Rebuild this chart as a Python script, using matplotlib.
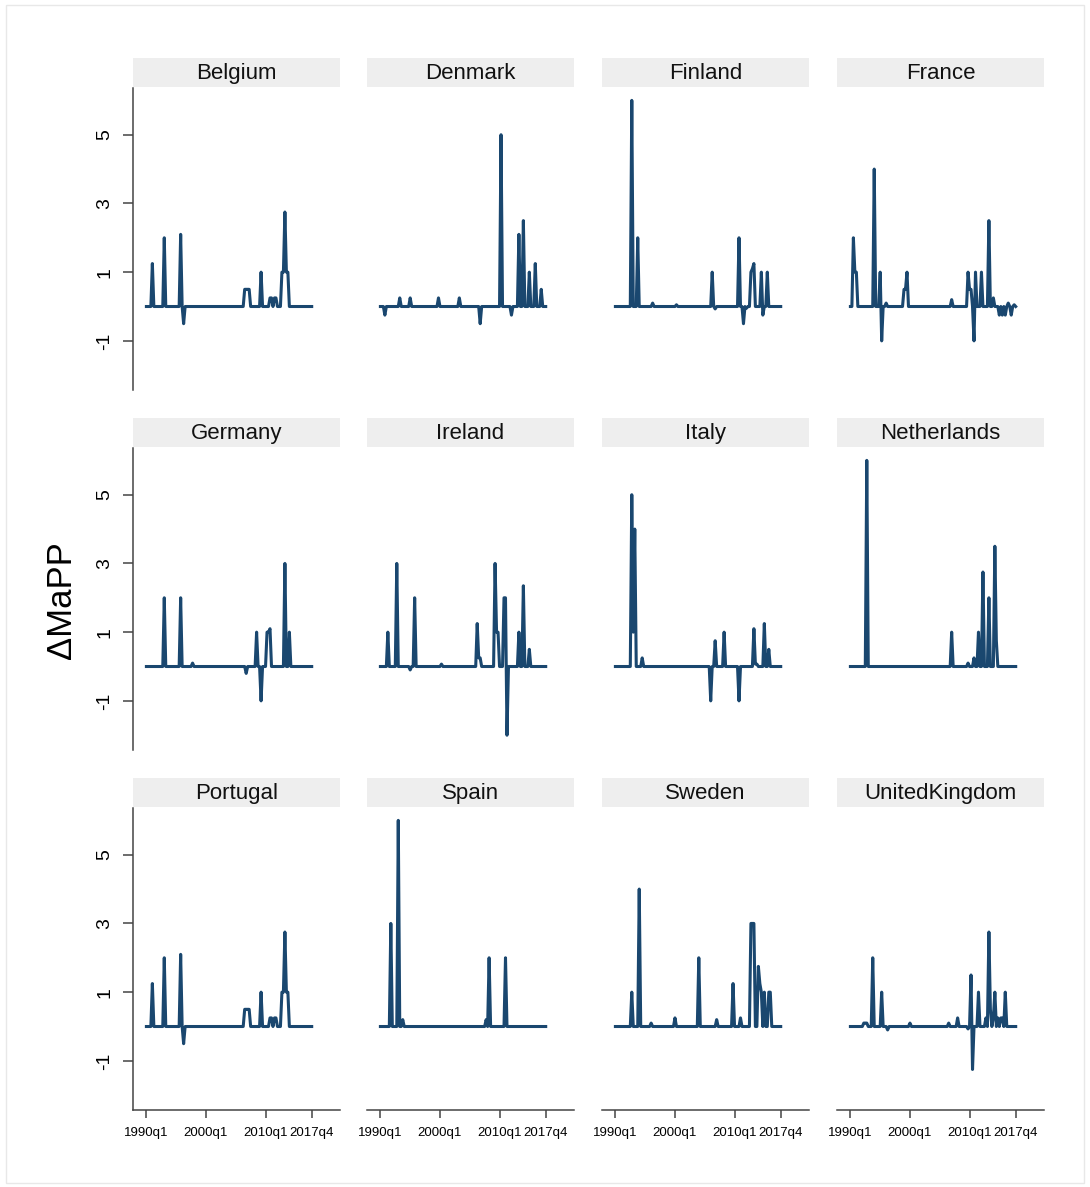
import numpy as np
import matplotlib
matplotlib.use("Agg")
import matplotlib.pyplot as plt
from matplotlib.patches import Rectangle

plt.rcParams['font.family'] = ['Liberation Sans', 'DejaVu Sans']

# quarters counted from 1990q1 (0) to 2017q4 (111)
n_quarters = 112
tick_pos = [0, 40, 80, 111]
tick_labels = ["1990q1", "2000q1", "2010q1", "2017q4"]

countries = ["Belgium", "Denmark", "Finland", "France",
             "Germany", "Ireland", "Italy", "Netherlands",
             "Portugal", "Spain", "Sweden", "UnitedKingdom"]

# non-zero quarters and their dMaPP values, per country
belgium_q = [4, 12, 23, 25, 66, 67, 68, 69, 77, 83, 84, 86, 87, 91, 92, 93, 94, 95]
belgium_v = [1.25, 2, 2.1, -0.5, 0.5, 0.5, 0.5, 0.5, 1, 0.25, 0.25, 0.25, 0.25, 1, 1, 2.75, 1, 1]

denmark_q = [3, 13, 20, 39, 53, 67, 81, 88, 93, 96, 100, 104, 108]
denmark_v = [-0.25, 0.25, 0.25, 0.25, 0.25, -0.5, 5, -0.25, 2.1, 2.5, 1, 1.25, 0.5]

finland_q = [11, 15, 25, 41, 65, 67, 83, 86, 88, 91, 92, 93, 98, 99, 102]
finland_v = [6, 2, 0.1, 0.05, 1, -0.07, 2, -0.5, -0.05, 1, 1.1, 1.25, 1, -0.25, 1]

france_q = [2, 3, 4, 16, 20, 21, 24, 36, 37, 38, 68, 79, 80, 81, 83, 84, 88, 93, 96,
            100, 102, 104, 106, 108, 110]
france_v = [2, 1, 1, 4, 1, -1, 0.1, 0.5, 0.5, 1, 0.2, 1, 0.5, 0.5, -1, 1, 1, 2.5, 0.25,
            -0.25, -0.25, -0.25, 0.1, -0.25, 0.05]

germany_q = [12, 23, 31, 67, 74, 77, 81, 82, 83, 93, 96]
germany_v = [2, 2, 0.1, -0.2, 1, -1, 1, 1, 1.1, 3, 1]

ireland_q = [5, 11, 20, 23, 41, 65, 66, 67, 77, 78, 79, 83, 84, 85, 93, 96, 100]
ireland_v = [1, 3, -0.1, 2, 0.07, 1.25, 0.25, 0.25, 3, 1, 1, 2, 2, -2, 1, 2.35, 0.5]

italy_q = [11, 12, 13, 18, 64, 67, 73, 83, 93, 94, 95, 100, 103]
italy_v = [5, 1, 4, 0.25, -1, 0.75, 1, -1, 1.1, 0.07, 0.07, 1.25, 0.5]

netherlands_q = [11, 68, 79, 83, 86, 89, 93, 97, 98]
netherlands_v = [6, 1, 0.1, 0.25, 1, 2.75, 2, 3.5, 0.75]

portugal_q = [4, 12, 23, 25, 66, 67, 68, 69, 77, 83, 84, 86, 87, 91, 92, 93, 94, 95]
portugal_v = [1.25, 2, 2.1, -0.5, 0.5, 0.5, 0.5, 0.5, 1, 0.25, 0.25, 0.25, 0.25, 1, 1, 2.75, 1, 1]

spain_q = [7, 12, 15, 71, 73, 84]
spain_v = [3, 6, 0.2, 0.2, 2, 2]

sweden_q = [11, 16, 24, 40, 56, 68, 79, 84, 91, 92, 93, 96, 97, 98, 100, 103, 104]
sweden_v = [1, 4, 0.1, 0.25, 2, 0.2, 1.25, 0.25, 3, 3, 3, 1.75, 1.25, 1, 1, 1, 1]

uk_q = [9, 10, 11, 15, 21, 25, 40, 66, 72, 79, 81, 82, 86, 91, 93, 94,
        96, 97, 99, 101, 102, 104]
uk_v = [0.1, 0.1, 0.1, 2, 1, -0.1, 0.1, 0.1, 0.25, -0.07, 1.5, -1.25, 1, 0.25, 2.75, 0.5,
        0.25, 1, 0.25, 0.25, 0.25, 1]

spikes = [(belgium_q, belgium_v), (denmark_q, denmark_v), (finland_q, finland_v),
          (france_q, france_v), (germany_q, germany_v), (ireland_q, ireland_v),
          (italy_q, italy_v), (netherlands_q, netherlands_v), (portugal_q, portugal_v),
          (spain_q, spain_v), (sweden_q, sweden_v), (uk_q, uk_v)]

W, H = 1090, 1187
fig = plt.figure(figsize=(W / 100, H / 100), dpi=100)
fig.patch.set_facecolor("white")

# faint outer frame
fig.add_artist(Rectangle((6 / W, 4 / H), 1078 / W, 1178 / H, transform=fig.transFigure,
                         fill=False, edgecolor="#e8e8e8", linewidth=1))

col_left = [133, 367, 602, 837]
row_bottom = [390, 750, 1110]
pw, ph = 207, 302
line_col = "#1a476f"

x = np.arange(n_quarters)
for i, name in enumerate(countries):
    r, c = divmod(i, 4)
    ax = fig.add_axes([col_left[c] / W, 1 - row_bottom[r] / H, pw / W, ph / H])
    y = np.zeros(n_quarters)
    qs, vs = spikes[i]
    y[qs] = vs
    ax.plot(x, y, color=line_col, linewidth=2.2, solid_joinstyle="round")
    ax.set_xlim(-9, 130)
    ax.set_ylim(-2.43, 6.36)
    ax.set_facecolor("none")
    for s in ["top", "right"]:
        ax.spines[s].set_visible(False)
    ax.spines["left"].set_visible(c == 0)
    ax.spines["bottom"].set_visible(r == 2)
    for s in ["left", "bottom"]:
        ax.spines[s].set_color("#444444")
        ax.spines[s].set_linewidth(1.1)
    if c == 0:
        ax.set_yticks([-1, 1, 3, 5])
        ax.set_yticklabels(["-1", "1", "3", "5"], rotation=90, va="center", fontsize=14)
        ax.tick_params(axis="y", length=7, width=1.1, color="#444444", pad=7)
    else:
        ax.set_yticks([])
    if r == 2:
        ax.set_xticks(tick_pos)
        ax.set_xticklabels(tick_labels, fontsize=9.5)
        ax.tick_params(axis="x", length=6, width=1.1, color="#444444", pad=6)
    else:
        ax.set_xticks([])

    # strip header
    ax.add_patch(Rectangle((0, 1.003), 1, 0.096, transform=ax.transAxes,
                           facecolor="#eeeeee", edgecolor="none", clip_on=False))
    ax.text(0.5, 1.047, name, transform=ax.transAxes, ha="center", va="center",
            fontsize=16, color="#111111")

fig.text(62 / W, 1 - 600 / H, "\u0394MaPP", rotation=90, ha="center", va="center",
         fontsize=25)

fig.savefig("out.png", dpi=100)
